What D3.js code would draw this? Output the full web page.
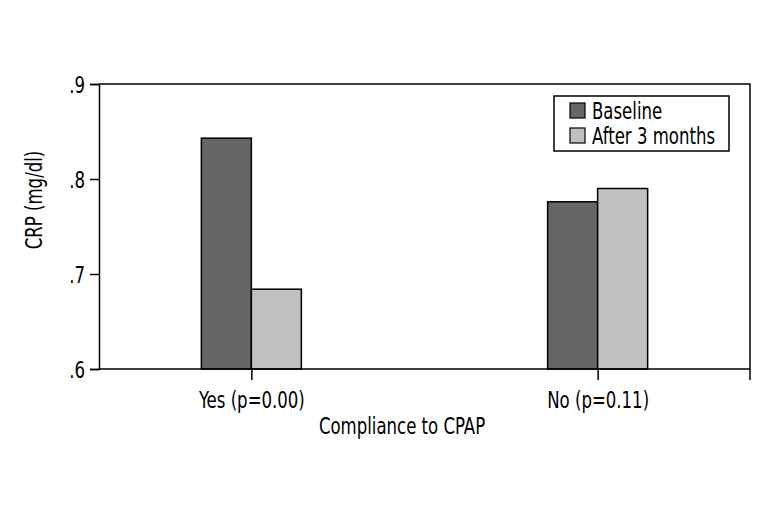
<!DOCTYPE html>
<html>
<head>
<meta charset="utf-8">
<script src="https://cdn.jsdelivr.net/npm/d3@7"></script>
<style>
body { margin: 0; background: #fff; }
svg text { font-family: "Liberation Sans Narrow", "DejaVu Sans Condensed", sans-serif; fill: #000; }
</style>
</head>
<body>
<svg width="771" height="514"></svg>
<script>
var categories = ["Yes (p=0.00)", "No (p=0.11)"];
var seriesNames = ["Baseline", "After 3 months"];
var baseline = [0.843, 0.776];
var after3 = [0.684, 0.790];
var yTicks = [0.6, 0.7, 0.8, 0.9];

var svg = d3.select("svg");
var mLeft = 99, mRight = 750, mTop = 84, mBottom = 369;
var palette = ["#666666", "#c0c0c0"];
var fs = "23px";

var x = d3.scalePoint().domain(categories).range([mLeft, mRight]).padding(0.44);
var y = d3.scaleLinear().domain([0.6, 0.9]).range([mBottom, mTop]);
var barW = 50;

var rows = categories.map(function(c, i) { return {cat: c, vals: [baseline[i], after3[i]]}; });

// frame top + right
svg.append("path")
  .attr("d", "M" + mLeft + "," + mTop + "H" + mRight + "V" + (mBottom + 11))
  .attr("fill", "none").attr("stroke", "#000").attr("stroke-width", 1.5);

// bars
var g = svg.append("g");
rows.forEach(function(r) {
  r.vals.forEach(function(v, j) {
    g.append("rect")
      .attr("x", x(r.cat) - barW + j * barW)
      .attr("y", y(v))
      .attr("width", barW)
      .attr("height", y(0.6) - y(v))
      .attr("fill", palette[j])
      .attr("stroke", "#000")
      .attr("stroke-width", 1.5);
  });
});

// y axis
var yAxis = svg.append("g")
  .attr("transform", "translate(" + mLeft + ",0)")
  .call(d3.axisLeft(y).tickValues(yTicks).tickSize(9).tickPadding(5)
    .tickFormat(function(d) { return d3.format(".1f")(d).replace(/^0/, ""); }));
yAxis.selectAll("text").style("font-size", fs).attr("dy", "0.36em");

// x axis
var xAxis = svg.append("g")
  .attr("transform", "translate(0," + mBottom + ")")
  .call(d3.axisBottom(x).tickSize(11).tickPadding(12).tickSizeOuter(0));
xAxis.select(".domain").attr("d", "M" + mLeft + ",0H" + mRight);
xAxis.selectAll("text").style("font-size", fs);

svg.selectAll(".domain, .tick line").attr("stroke", "#000").attr("stroke-width", 1.5);

// axis titles
svg.append("text")
  .attr("transform", "translate(42,200) rotate(-90)")
  .attr("text-anchor", "middle")
  .style("font-size", fs)
  .text("CRP (mg/dl)");

svg.append("text")
  .attr("x", 402).attr("y", 434)
  .attr("text-anchor", "middle")
  .style("font-size", fs)
  .text("Compliance to CPAP");

// legend
var lg = svg.append("g");
lg.append("rect")
  .attr("x", 554).attr("y", 96).attr("width", 175).attr("height", 55)
  .attr("fill", "#fff").attr("stroke", "#000").attr("stroke-width", 1.5);
seriesNames.forEach(function(s, j) {
  lg.append("rect")
    .attr("x", 570).attr("y", 103 + j * 25).attr("width", 15).attr("height", 15)
    .attr("fill", palette[j]).attr("stroke", "#000").attr("stroke-width", 1.2);
  lg.append("text")
    .attr("x", 592).attr("y", 119 + j * 25)
    .style("font-size", fs)
    .text(s);
});

// squeeze text horizontally, the original uses a condensed face
svg.selectAll("text").each(function() {
  var len = this.getComputedTextLength();
  d3.select(this).attr("textLength", len * 0.8).attr("lengthAdjust", "spacingAndGlyphs");
});
</script>
</body>
</html>
